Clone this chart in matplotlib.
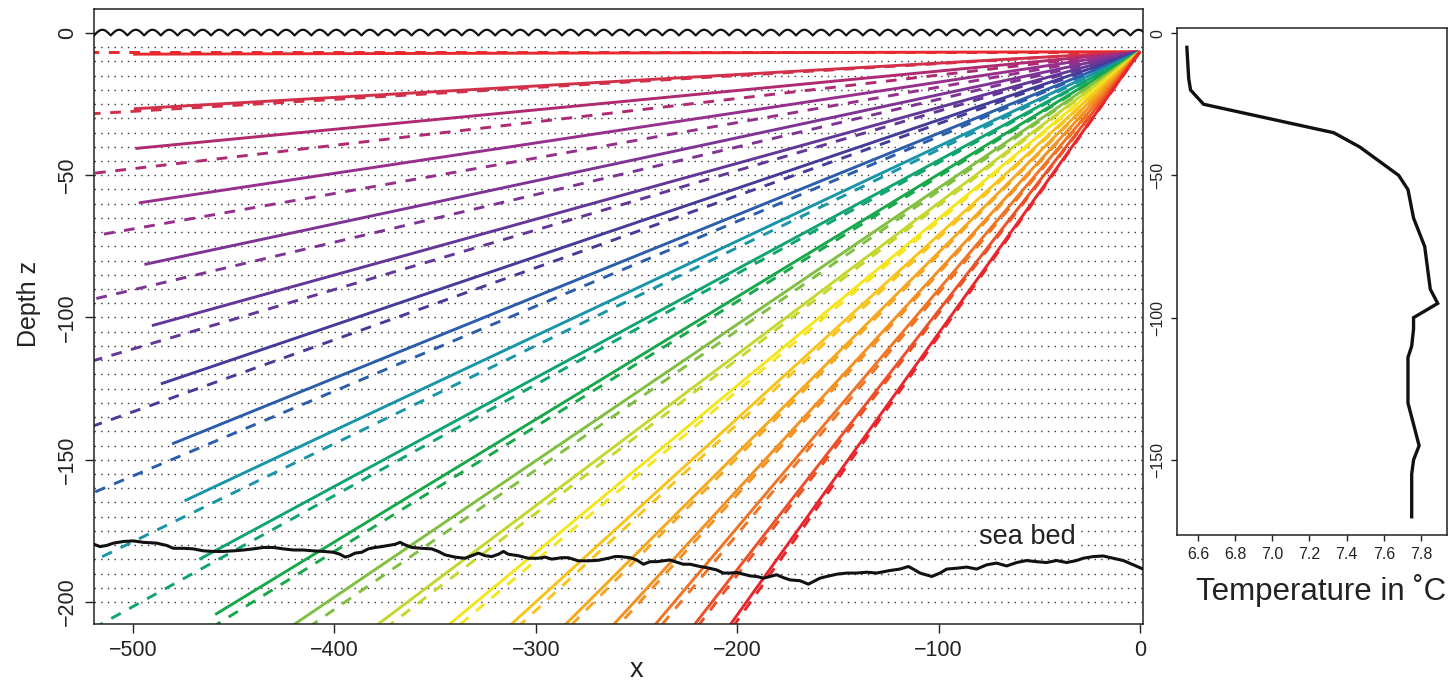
import numpy as np
import matplotlib
matplotlib.use("Agg")
import matplotlib.pyplot as plt

plt.rcParams['font.family'] = ['Liberation Sans', 'DejaVu Sans']

# ---------------- data ----------------
source_x = 0.0
source_z = -6.6
ray_length = 500.0
solid_angles_deg = [0.1, 2.3, 3.9, 6.1, 8.6, 11.1, 13.5, 16.0, 18.4, 20.9,
                    23.3, 25.6, 28.0, 30.4, 32.8, 35.2, 37.6, 39.9, 42.3, 44.7]
dashed_angles_deg = [0.0, 2.4, 4.7, 7.1, 9.5, 11.8, 14.2, 16.6, 19.0, 21.3,
                     23.7, 26.1, 28.4, 30.8, 33.2, 35.5, 37.9, 40.3, 42.6, 45.0]
ray_colors = ['#E8282C', '#D2304A', '#B02A72', '#96308C', '#7E3494', '#623798',
              '#443C98', '#2C5DAA', '#1995A7', '#10A56E', '#18A84B', '#80BF42',
              '#C5D62E', '#F5E51C', '#F8C41B', '#F5A81E', '#F39021', '#F07424',
              '#EC5127', '#E8262B']

seabed_x = [-519.4, -516.4, -513.1, -509.8, -504.8, -499.9, -494.9, -488.2, -483.3, -480.0,
            -475.0, -470.1, -465.1, -460.1, -455.2, -450.2, -445.2, -440.3, -435.3, -430.3,
            -425.4, -420.4, -415.4, -410.5, -405.5, -400.5, -397.2, -394.7, -392.3, -389.8,
            -386.5, -383.2, -379.8, -376.5, -373.2, -369.9, -367.4, -364.9, -361.6, -356.7,
            -351.7, -348.4, -345.1, -340.1, -335.2, -331.8, -328.5, -325.2, -321.9, -318.6,
            -316.1, -313.6, -308.7, -303.7, -298.8, -295.4, -292.1, -287.1, -283.9, -278.9,
            -273.9, -268.9, -264.0, -260.7, -258.2, -253.2, -249.9, -246.6, -243.3, -240.0,
            -236.7, -233.4, -230.0, -226.8, -223.4, -218.5, -215.1, -210.2, -206.9, -203.6,
            -200.2, -196.9, -193.6, -190.3, -187.0, -183.7, -180.4, -177.1, -173.8, -168.8,
            -164.7, -162.2, -158.9, -155.6, -150.6, -145.6, -140.7, -135.7, -130.8, -124.1,
            -119.2, -115.0, -112.6, -109.2, -103.4, -99.3, -96.0, -91.0, -86.0, -81.1,
            -76.1, -71.2, -66.2, -61.2, -56.3, -51.3, -46.4, -41.4, -36.4, -31.5,
            -28.2, -23.2, -18.2, -13.3, -8.3, -3.3, 1.5]
seabed_z = [-179.7, -180.5, -180.1, -179.3, -178.7, -178.5, -179.0, -179.3, -180.1, -181.1,
            -181.1, -181.3, -182.0, -182.2, -182.2, -182.0, -181.7, -181.3, -180.8, -180.8,
            -181.3, -181.7, -181.7, -182.0, -182.2, -182.5, -183.2, -184.2, -183.7, -182.8,
            -182.5, -181.3, -180.8, -180.5, -180.1, -179.7, -179.0, -179.9, -180.8, -181.1,
            -181.3, -182.2, -183.4, -184.2, -184.6, -183.7, -182.8, -183.7, -184.0, -183.2,
            -182.2, -183.2, -183.7, -184.6, -184.6, -184.2, -184.9, -184.4, -184.4, -185.5,
            -185.5, -185.3, -184.6, -184.0, -184.0, -184.4, -185.2, -186.7, -185.8, -185.8,
            -185.5, -185.2, -186.0, -186.7, -186.7, -187.5, -187.9, -188.7, -189.8, -189.8,
            -189.6, -190.2, -190.8, -191.0, -191.6, -191.0, -190.4, -191.4, -192.2, -192.5,
            -193.7, -192.8, -191.6, -191.0, -190.2, -189.8, -189.8, -189.5, -189.8, -188.9,
            -188.4, -187.5, -188.4, -189.8, -191.0, -189.8, -188.4, -188.1, -187.7, -188.4,
            -186.9, -186.3, -187.3, -186.1, -185.4, -185.8, -186.1, -185.4, -186.1, -185.4,
            -184.6, -184.0, -183.8, -184.6, -185.4, -186.9, -188.4]

temp_depth = [-5, -16, -20, -25, -35, -40, -50, -55, -65, -75, -90, -95, -100,
              -104, -110, -114, -130, -145, -150, -155, -170]
temp_value = [6.54, 6.55, 6.56, 6.63, 7.33, 7.47, 7.68, 7.73, 7.76, 7.82, 7.85, 7.89, 7.76,
              7.76, 7.75, 7.73, 7.73, 7.79, 7.76, 7.75, 7.75]

grid_depths = [-5 * k for k in range(1, 41)]
main_xticks = [-500, -400, -300, -200, -100, 0]
main_yticks = [0, -50, -100, -150, -200]
temp_xticks = [6.6, 6.8, 7.0, 7.2, 7.4, 7.6, 7.8]
temp_yticks = [0, -50, -100, -150]

# ---------------- figure ----------------
W, H = 1454, 683
fig = plt.figure(figsize=(W / 100, H / 100), dpi=100)

def px_axes(l, t, r, b):
    return fig.add_axes([l / W, 1 - b / H, (r - l) / W, (b - t) / H])

ax = px_axes(94, 9, 1143, 624)
ax2 = px_axes(1177, 28, 1447, 535)

xmin, xmax = -519.4, 1.5
ax.set_xlim(xmin, xmax)
ax.set_ylim(-207.7, 8.4)

# dotted depth grid
ax.hlines(grid_depths, xmin, xmax, colors='#333333', linewidth=1.0,
          linestyles=[(0, (1.0, 3.8))], zorder=1)

# sea surface
xs = np.linspace(xmin, xmax, 4000)
ax.plot(xs, 2.0 * np.abs(np.sin(np.pi * (xs - xmin) / 8.3)) - 0.9,
        color='#111111', lw=1.6, zorder=3)

# rays
for ang_s, ang_d, c in zip(solid_angles_deg, dashed_angles_deg, ray_colors):
    ts = np.deg2rad(ang_s)
    td = np.deg2rad(ang_d)
    ax.plot([source_x, source_x - 1200 * np.cos(td)],
            [source_z, source_z - 1200 * np.sin(td)],
            color=c, lw=2.1, linestyle=(0, (3.7, 3.3)), zorder=2)
    ax.plot([source_x, source_x - ray_length * np.cos(ts)],
            [source_z, source_z - ray_length * np.sin(ts)],
            color=c, lw=2.1, solid_capstyle='butt', zorder=2)

# sea bed
ax.plot(seabed_x, seabed_z, color='#111111', lw=2.2, zorder=4)
ax.text(-56.1, -177.1, 'sea bed', fontsize=19.5, ha='center', va='center',
        color='#222222', zorder=5,
        bbox=dict(facecolor='white', edgecolor='none', pad=1.5))

ax.set_xticks(main_xticks)
ax.set_yticks(main_yticks)
ax.tick_params(axis='both', direction='out', length=6.5, width=1.0,
               colors='#222222', labelsize=15.5, pad=5)
for lab in ax.get_yticklabels():
    lab.set_rotation(90)
    lab.set_va('center')
ax.set_xlabel('x', fontsize=19.5, color='#222222')
ax.xaxis.set_label_coords((636 - 94) / 1049, -0.053)
ax.set_ylabel('Depth z', fontsize=18, color='#222222')
ax.yaxis.set_label_coords(-0.051, (624 - 304) / 615)
for s in ax.spines.values():
    s.set_linewidth(1.1)
    s.set_color('#222222')

# temperature profile
ax2.plot(temp_value, temp_depth, color='#111111', lw=2.4, solid_joinstyle='miter')
ax2.set_xlim(6.487, 7.94)
ax2.set_ylim(-176.4, 1.8)
ax2.set_xticks(temp_xticks)
ax2.set_xticklabels(['%.1f' % v for v in temp_xticks])
ax2.set_yticks(temp_yticks)
ax2.tick_params(axis='both', direction='out', length=4.5, width=1.0,
                colors='#222222', labelsize=11.5, pad=4)
for lab in ax2.get_yticklabels():
    lab.set_rotation(90)
    lab.set_va('center')
ax2.set_xlabel('Temperature in \u02daC', fontsize=22.5, color='#222222')
ax2.xaxis.set_label_coords((1321 - 1177) / 270, -0.076)
for s in ax2.spines.values():
    s.set_linewidth(1.1)
    s.set_color('#222222')

fig.savefig('out.png', dpi=100)
